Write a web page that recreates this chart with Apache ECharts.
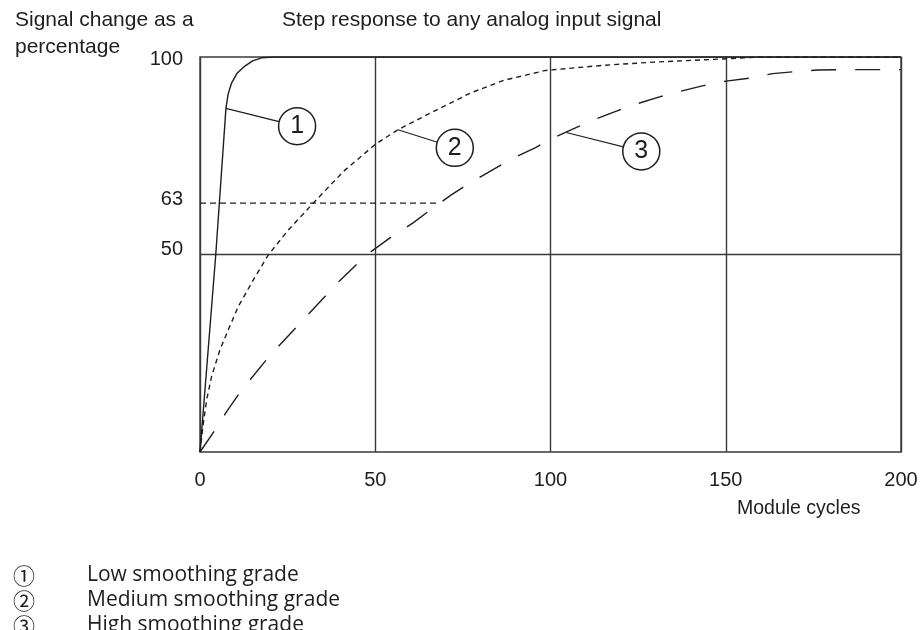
<!DOCTYPE html>
<html>
<head>
<meta charset="utf-8">
<script src="https://cdn.jsdelivr.net/npm/echarts@6/dist/echarts.min.js"></script>
<style>
  html, body { margin: 0; padding: 0; background: #fff; }
  #chart { width: 923px; height: 630px; }
</style>
</head>
<body>
<div id="chart"></div>
<script>
// Step response curves: [module cycles, signal change in %]
const lowSmoothing = [
  [0, 0], [4.5, 50], [7.4, 87], [8.0, 90.5], [9.0, 93.4], [10.5, 95.8],
  [12.8, 97.7], [15, 99], [17.6, 99.8], [21, 100], [200, 100]
];
const mediumSmoothing = [
  [0, 0], [0.95, 7.3], [1.9, 13.2], [3.3, 19.1], [5.7, 25.9], [8.1, 31],
  [10.9, 36.8], [15.5, 44], [19.5, 49.9], [25, 56], [32.3, 63], [40.9, 71],
  [49.9, 77.8], [56.5, 81.6], [67.7, 86.7], [77.2, 90.9], [86.7, 94.1],
  [98.6, 96.6], [115.2, 97.9], [129.4, 98.7], [146.6, 99.4], [160, 100], [200, 100]
];
const highSmoothing = [
  [0, 0], [4.3, 5.6], [7.6, 10.2], [11.9, 15.7], [20, 24.5], [30, 34],
  [40, 43.5], [47.5, 49.9], [54.2, 54.2], [60.8, 58], [66.5, 61.8],
  [71.7, 65.1], [77, 68.1], [83.6, 71.5], [89, 74.3], [95.6, 77], [100, 79.2],
  [106, 81.6], [111.7, 83.9], [118.8, 86.3], [124.5, 88.1], [131.1, 89.9],
  [137, 91.3], [143.9, 92.8], [150.1, 93.9], [157.2, 94.7], [163.4, 95.8],
  [170, 96.3], [176.2, 96.7], [183.3, 96.8], [190, 96.8], [200, 96.8]
];

// Reference levels
const halfLevel = [[0, 50], [200, 50]];
const timeConstantLevel = [[0, 63], [68.4, 63]];

// Axis ticks
const xTickStep = 50;
const xMax = 200;
const yTickValues = [50, 63, 100];

// Numbered callouts: anchor on the curve, bubble position
const calloutNumbers = ['1', '2', '3'];
const calloutAnchors = [[7.4, 87], [56.5, 81.6], [104.5, 80.9]];
const calloutBubbles = [[27.7, 82.5], [72.7, 77.0], [125.9, 76.1]];

// Key below the chart
const keySymbols = ['①', '②', '③'];
const keyTexts = ['Low smoothing grade', 'Medium smoothing grade', 'High smoothing grade'];

const ink = '#1e1e1e';
const gridInk = '#3a3a3a';
const sansFont = '"Liberation Sans", Arial, sans-serif';

const chart = echarts.init(document.getElementById('chart'), null, { renderer: 'canvas' });

const curveSeries = (data, dash) => ({
  type: 'line',
  data: data,
  symbol: 'none',
  smooth: false,
  silent: true,
  z: 3,
  lineStyle: { color: ink, width: 1.4, type: dash }
});

const leaderSeries = calloutAnchors.map((a, i) => ({
  type: 'line',
  data: [a, calloutBubbles[i]],
  symbol: 'none',
  silent: true,
  z: 4,
  lineStyle: { color: ink, width: 1.1 }
}));

const keyRich = {
  n: { fontFamily: '"Noto Sans CJK SC", "DejaVu Sans", sans-serif', fontSize: 22, fontWeight: 'normal', color: ink, width: 74, lineHeight: 25 },
  t: { fontFamily: '"Open Sans", "Noto Sans", sans-serif', fontSize: 21, fontWeight: 'normal', color: ink, lineHeight: 25 }
};

chart.setOption({
  animation: false,
  backgroundColor: '#ffffff',
  title: [
    {
      text: 'Signal change as a\npercentage',
      left: 10, top: 2,
      textStyle: { fontFamily: sansFont, fontSize: 21, fontWeight: 'normal', color: ink, lineHeight: 27 }
    },
    {
      text: 'Step response to any analog input signal',
      left: 277, top: 2,
      textStyle: { fontFamily: sansFont, fontSize: 21, fontWeight: 'normal', color: ink, lineHeight: 27 }
    },
    {
      text: 'Module cycles',
      left: 732, top: 494,
      textStyle: { fontFamily: sansFont, fontSize: 19.5, fontWeight: 'normal', color: ink }
    },
    {
      text: keySymbols.map((s, i) => '{n|' + s + '}{t|' + keyTexts[i] + '}').join('\n'),
      left: 8, top: 558,
      textStyle: { rich: keyRich, lineHeight: 25, fontWeight: 'normal' }
    }
  ],
  grid: {
    left: 200, right: 22, top: 57, bottom: 178,
    show: true, borderColor: gridInk, borderWidth: 1.4, backgroundColor: 'transparent'
  },
  xAxis: {
    type: 'value',
    min: 0, max: xMax, interval: xTickStep,
    axisLine: { show: false },
    axisTick: { show: false },
    splitLine: { show: true, lineStyle: { color: gridInk, width: 1.4 } },
    axisLabel: { fontFamily: sansFont, fontSize: 20, color: ink, margin: 18 }
  },
  yAxis: {
    type: 'value',
    min: 0, max: 100,
    axisLine: { show: false },
    axisTick: { show: false },
    splitLine: { show: false },
    axisLabel: {
      customValues: yTickValues,
      fontFamily: sansFont, fontSize: 20, color: ink, margin: 17,
      formatter: v => v === 100 ? '{a|' + v + '}' : (v === 63 ? '{b|' + v + '}' : '{c|' + v + '}'),
      rich: {
        a: { fontFamily: sansFont, fontSize: 20, color: ink, padding: [4, 0, 0, 0] },
        b: { fontFamily: sansFont, fontSize: 20, color: ink, padding: [0, 0, 8, 0] },
        c: { fontFamily: sansFont, fontSize: 20, color: ink, padding: [0, 0, 11, 0] }
      }
    }
  },
  series: [
    {
      type: 'line', data: halfLevel, symbol: 'none', silent: true, z: 2,
      lineStyle: { color: gridInk, width: 1.4 }
    },
    {
      type: 'line', data: timeConstantLevel, symbol: 'none', silent: true, z: 2,
      lineStyle: { color: ink, width: 1.2, type: [6, 4] }
    },
    curveSeries(lowSmoothing, 'solid'),
    curveSeries(mediumSmoothing, [5, 4]),
    curveSeries(highSmoothing, [25, 19]),
    ...leaderSeries,
    {
      type: 'scatter',
      data: calloutBubbles.map((p, i) => ({ value: p, name: calloutNumbers[i] })),
      symbol: 'circle',
      symbolSize: 37,
      silent: true,
      z: 5,
      itemStyle: { color: '#ffffff', borderColor: ink, borderWidth: 1.5, opacity: 1 },
      label: {
        show: true, position: 'inside',
        formatter: p => p.name,
        fontFamily: sansFont, fontSize: 25, color: ink
      }
    }
  ]
});
</script>
</body>
</html>
